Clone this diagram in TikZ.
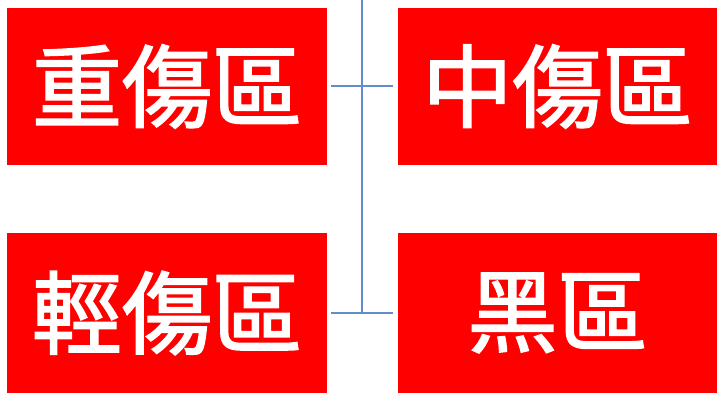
\documentclass[tikz,border=0pt]{standalone}
\usepackage{fontspec}
\newfontfamily\cjk[FakeBold=2]{Noto Sans CJK TC}
\definecolor{boxred}{RGB}{255,0,0}
\definecolor{linkblue}{RGB}{100,140,205}
\begin{document}
\begin{tikzpicture}[x=1pt,y=-1pt,
  zone/.style={fill=boxred,draw=none,inner sep=0pt,text=white,font=\cjk\fontsize{90}{92}\selectfont},
  link/.style={draw=linkblue,line width=2pt,shorten <=4pt,shorten >=4pt}]
\useasboundingbox (0,0) rectangle (717,393);
\node[zone,minimum width=320pt,minimum height=157pt] (tl) at (167,86.5) {重傷區};
\node[zone,minimum width=320pt,minimum height=157pt] (tr) at (557.5,86.5) {中傷區};
\node[zone,minimum width=320pt,minimum height=160pt] (bl) at (167,313) {輕傷區};
\node[zone,minimum width=320pt,minimum height=160pt] (br) at (557.5,313) {黑區};
\coordinate (top) at (362,0);
\coordinate (bj) at (362,313);
\draw[link] (tl.east) -- (tr.west);
\draw[link] (bl.east) -- (br.west);
\draw[draw=linkblue,line width=2pt] (top) -- (bj);
\end{tikzpicture}
\end{document}
